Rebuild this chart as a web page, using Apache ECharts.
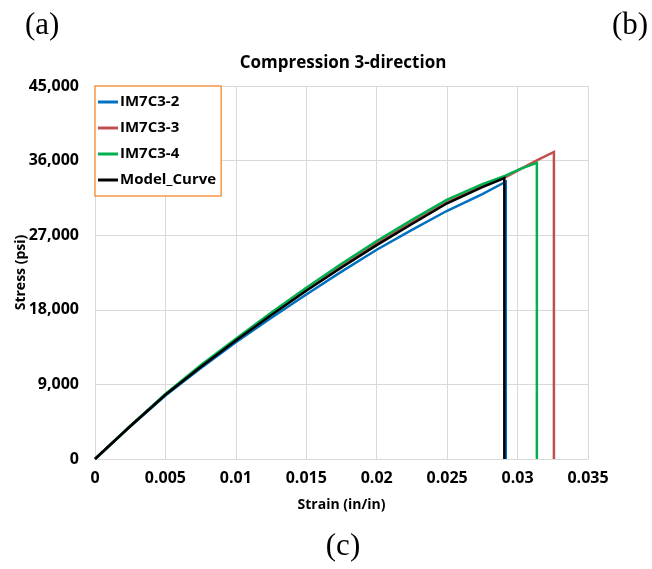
<!DOCTYPE html>
<html>
<head>
<meta charset="utf-8">
<script src="https://cdn.jsdelivr.net/npm/echarts@6/dist/echarts.min.js"></script>
<style>
  html, body { margin: 0; padding: 0; background: #fff; }
  #chart { width: 652px; height: 569px; }
</style>
</head>
<body>
<div id="chart"></div>
<script>
// Compression test, 3-direction: stress vs strain for three specimens and the model
const seriesNames = ['IM7C3-2', 'IM7C3-3', 'IM7C3-4', 'Model_Curve'];

const strainIM7C3_2 = [0, 0.0025, 0.005, 0.0075, 0.01, 0.0125, 0.015, 0.0175, 0.02, 0.0225, 0.025, 0.0275, 0.02916, 0.02916];
const stressIM7C3_2 = [0, 3900, 7650, 10950, 14100, 17000, 19850, 22600, 25250, 27650, 29950, 31950, 33450, 0];

const strainIM7C3_3 = [0, 0.0025, 0.005, 0.0075, 0.01, 0.0125, 0.015, 0.0175, 0.02, 0.0225, 0.025, 0.0275, 0.0291, 0.0305, 0.0314, 0.03258, 0.03258];
const stressIM7C3_3 = [0, 3980, 7800, 11200, 14400, 17500, 20450, 23300, 26050, 28600, 31000, 32950, 33950, 35250, 36050, 37050, 0];

const strainIM7C3_4 = [0, 0.0025, 0.005, 0.0075, 0.01, 0.0125, 0.015, 0.0175, 0.02, 0.0225, 0.025, 0.0275, 0.0291, 0.0302, 0.03137, 0.03137];
const stressIM7C3_4 = [0, 4000, 7850, 11300, 14500, 17650, 20650, 23550, 26300, 28850, 31300, 33150, 34150, 35000, 35720, 0];

const strainModel = [0, 0.0025, 0.005, 0.0075, 0.01, 0.0125, 0.015, 0.0175, 0.02, 0.0225, 0.025, 0.0275, 0.02906, 0.02906];
const stressModel = [0, 3950, 7750, 11100, 14300, 17350, 20300, 23100, 25800, 28350, 30850, 32800, 33900, 0];

const xTickLabels = ['0', '0.005', '0.01', '0.015', '0.02', '0.025', '0.03', '0.035'];
const yTickLabels = ['0', '9,000', '18,000', '27,000', '36,000', '45,000'];

const seriesColors = ['#0070C0', '#C0504D', '#00B050', '#000000'];

function pairs(xs, ys) {
  return xs.map((x, i) => [x, ys[i]]);
}

const seriesData = [
  pairs(strainIM7C3_2, stressIM7C3_2),
  pairs(strainIM7C3_3, stressIM7C3_3),
  pairs(strainIM7C3_4, stressIM7C3_4),
  pairs(strainModel, stressModel)
];

const labelFont = '"Open Sans", Lato, sans-serif';
const serifFont = '"Liberation Serif", "DejaVu Serif", serif';

const chart = echarts.init(document.getElementById('chart'), null, { renderer: 'canvas' });

chart.setOption({
  animation: false,
  backgroundColor: '#ffffff',
  title: [
    {
      text: 'Compression 3-direction',
      left: 338, top: 50, textAlign: 'center',
      textStyle: { fontFamily: labelFont, fontWeight: 'bold', fontSize: 17, color: '#000' }
    },
    {
      text: '(a)', left: 20, top: 5,
      textStyle: { fontFamily: serifFont, fontWeight: 'normal', fontSize: 31, color: '#000' }
    },
    {
      text: '(b)', left: 607, top: 5,
      textStyle: { fontFamily: serifFont, fontWeight: 'normal', fontSize: 31, color: '#000' }
    },
    {
      text: '(c)', left: 338, top: 526, textAlign: 'center',
      textStyle: { fontFamily: serifFont, fontWeight: 'normal', fontSize: 31, color: '#000' }
    }
  ],
  legend: {
    data: seriesNames,
    orient: 'vertical',
    left: 95, top: 86,
    backgroundColor: '#ffffff',
    borderColor: '#F79646',
    borderWidth: 1.5,
    borderRadius: 0,
    padding: [8, 5, 8, 3],
    itemGap: 10,
    itemWidth: 20,
    itemHeight: 3,
    icon: 'rect',
    textStyle: { fontFamily: labelFont, fontWeight: 'bold', fontSize: 15, color: '#000', lineHeight: 16, padding: [0, 0, 0, -3] }
  },
  grid: { left: 95, right: 64, top: 86, bottom: 110, containLabel: false, outerBoundsMode: 'none' },
  xAxis: {
    type: 'value',
    min: 0, max: 0.035, interval: 0.005,
    name: 'Strain (in/in)',
    nameLocation: 'middle',
    nameGap: 39,
    nameMoveOverlap: false,
    nameTextStyle: { fontFamily: labelFont, fontWeight: 'bold', fontSize: 14, color: '#000' },
    axisLine: { show: true, lineStyle: { color: '#D9D9D9', width: 1 } },
    axisTick: { show: false },
    splitLine: { show: true, lineStyle: { color: '#D9D9D9', width: 1 } },
    axisLabel: {
      margin: 11,
      fontFamily: labelFont, fontWeight: 'bold', fontSize: 16, color: '#000',
      formatter: v => xTickLabels[Math.round(v / 0.005)]
    }
  },
  yAxis: {
    type: 'value',
    min: 0, max: 45000, interval: 9000,
    name: 'Stress (psi)',
    nameLocation: 'middle',
    nameGap: 67,
    nameMoveOverlap: false,
    nameTextStyle: { fontFamily: labelFont, fontWeight: 'bold', fontSize: 14, color: '#000' },
    axisLine: { show: true, lineStyle: { color: '#D9D9D9', width: 1 } },
    axisTick: { show: false },
    splitLine: { show: true, lineStyle: { color: '#D9D9D9', width: 1 } },
    axisLabel: {
      margin: 16,
      fontFamily: labelFont, fontWeight: 'bold', fontSize: 16, color: '#000',
      formatter: v => yTickLabels[Math.round(v / 9000)]
    }
  },
  series: seriesNames.map((name, i) => ({
    name: name,
    type: 'line',
    data: seriesData[i],
    showSymbol: false,
    symbol: 'none',
    color: seriesColors[i],
    lineStyle: { color: seriesColors[i], width: 2.5, join: 'miter' },
    z: 2 + i
  }))
});
</script>
</body>
</html>
